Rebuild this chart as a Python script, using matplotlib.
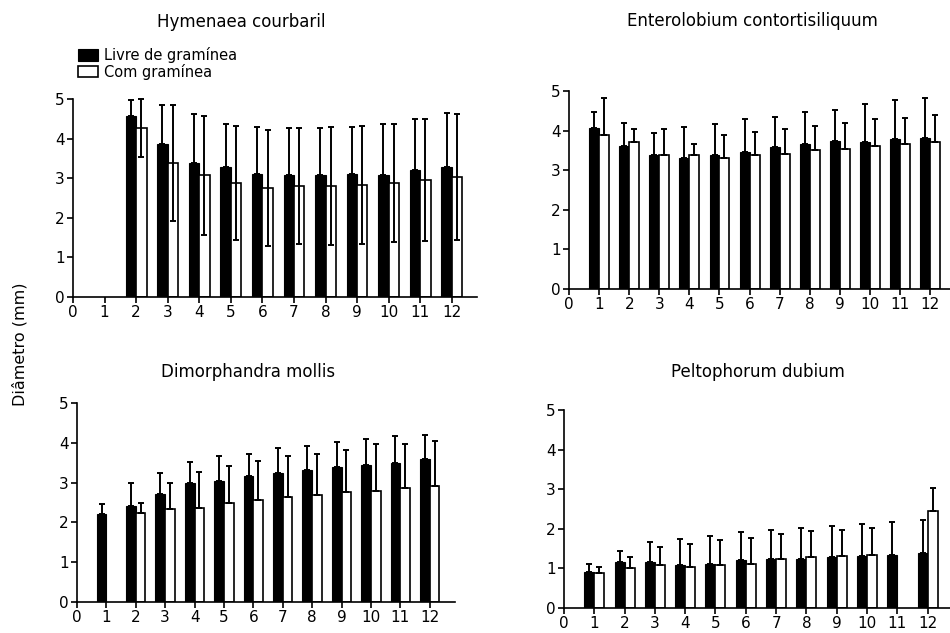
import numpy as np
import matplotlib.pyplot as plt

nan = np.nan
meses = np.arange(1, 13)
ticks_x = np.arange(0, 13)
ticks_y = np.arange(0, 6)

series_labels = ['Livre de gramínea', 'Com gramínea']

# Hymenaea courbaril
hym_livre = [nan, 4.58, 3.86, 3.39, 3.28, 3.11, 3.08, 3.08, 3.11, 3.08, 3.20, 3.28]
hym_livre_err = [nan, 0.39, 0.99, 1.22, 1.09, 1.18, 1.18, 1.18, 1.18, 1.29, 1.29, 1.37]
hym_com = [nan, 4.27, 3.38, 3.07, 2.88, 2.75, 2.80, 2.80, 2.84, 2.88, 2.95, 3.03]
hym_com_err = [nan, 0.73, 1.47, 1.50, 1.45, 1.47, 1.46, 1.49, 1.49, 1.49, 1.54, 1.58]

# Enterolobium contortisiliquum
ent_livre = [4.06, 3.62, 3.38, 3.31, 3.38, 3.46, 3.59, 3.67, 3.74, 3.70, 3.78, 3.82]
ent_livre_err = [0.41, 0.57, 0.55, 0.77, 0.78, 0.83, 0.76, 0.80, 0.77, 0.96, 0.99, 1.01]
ent_com = [3.89, 3.72, 3.38, 3.38, 3.31, 3.38, 3.42, 3.50, 3.54, 3.62, 3.66, 3.70]
ent_com_err = [0.94, 0.33, 0.67, 0.28, 0.58, 0.59, 0.63, 0.62, 0.65, 0.67, 0.67, 0.70]

# Dimorphandra mollis
dim_livre = [2.21, 2.41, 2.72, 3.00, 3.03, 3.16, 3.24, 3.31, 3.39, 3.44, 3.50, 3.59]
dim_livre_err = [0.24, 0.58, 0.51, 0.53, 0.63, 0.57, 0.63, 0.61, 0.62, 0.66, 0.67, 0.61]
dim_com = [nan, 2.24, 2.33, 2.36, 2.49, 2.56, 2.64, 2.68, 2.76, 2.80, 2.87, 2.92]
dim_com_err = [nan, 0.25, 0.66, 0.90, 0.93, 0.98, 1.02, 1.05, 1.06, 1.17, 1.10, 1.13]

# Peltophorum dubium
pel_livre = [0.92, 1.16, 1.16, 1.08, 1.12, 1.20, 1.24, 1.24, 1.29, 1.32, 1.35, 1.39]
pel_livre_err = [0.19, 0.27, 0.50, 0.66, 0.70, 0.71, 0.73, 0.78, 0.77, 0.81, 0.83, 0.83]
pel_com = [0.88, 1.00, 1.08, 1.04, 1.08, 1.12, 1.24, 1.28, 1.32, 1.35, nan, 2.45]
pel_com_err = [0.15, 0.30, 0.46, 0.58, 0.63, 0.66, 0.62, 0.66, 0.66, 0.67, nan, 0.59]

paineis = [
    ('Hymenaea courbaril', hym_livre, hym_livre_err, hym_com, hym_com_err, True,
     [73/950, 1-297/633, 404/950, 198/633], 12.8, (241, 22)),
    ('Enterolobium contortisiliquum', ent_livre, ent_livre_err, ent_com, ent_com_err, False,
     [569/950, 1-289/633, 381/950, 198/633], 12.66, (752, 21)),
    ('Dimorphandra mollis', dim_livre, dim_livre_err, dim_com, dim_com_err, False,
     [77/950, 1-602/633, 378/950, 199/633], 12.86, (248, 372)),
    ('Peltophorum dubium', pel_livre, pel_livre_err, pel_com, pel_com_err, False,
     [564/950, 1-608/633, 386/950, 198/633], 12.74, (758, 372)),
]

largura = 0.33

fig = plt.figure(figsize=(9.5, 6.33), dpi=100)

for titulo, livre, livre_err, com, com_err, baixo, pos, xmax, tpos in paineis:
    ax = fig.add_axes(pos)
    b1 = ax.bar(meses, livre, width=-largura, align='edge', color='black',
                edgecolor='black', linewidth=0.8, zorder=2)
    b2 = ax.bar(meses, com, width=largura, align='edge', color='white',
                edgecolor='black', linewidth=1.2, zorder=2)
    livre_err = np.array(livre_err)
    com_err = np.array(com_err)
    ax.errorbar(meses - largura/2, livre, yerr=[np.zeros(12), livre_err], fmt='none',
                ecolor='black', elinewidth=1.4, capsize=2.5, capthick=1.4,
                zorder=3, clip_on=False)
    # so a Hymenaea mostra o erro para baixo nas barras brancas
    if baixo:
        yerr_com = [com_err, com_err]
    else:
        yerr_com = [np.zeros(12), com_err]
    ax.errorbar(meses + largura/2, com, yerr=yerr_com, fmt='none',
                ecolor='black', elinewidth=1.4, capsize=2.5, capthick=1.4,
                zorder=3, clip_on=False)

    ax.set_xlim(0, xmax)
    ax.set_ylim(0, 5)
    ax.set_xticks(ticks_x)
    ax.set_yticks(ticks_y)
    ax.tick_params(direction='out', length=4, width=1.2, labelsize=11, pad=2)
    for lado in ['top', 'right']:
        ax.spines[lado].set_visible(False)
    for lado in ['left', 'bottom']:
        ax.spines[lado].set_linewidth(1.2)
    fig.text(tpos[0]/950, 1-tpos[1]/633, titulo, ha='center', va='center', fontsize=12)

    if titulo == 'Hymenaea courbaril':
        fig.legend([b1, b2], series_labels, loc='upper left',
                   bbox_to_anchor=(78/950, 1-47/633), frameon=False, fontsize=10.5,
                   handlelength=1.4, handleheight=0.8, handletextpad=0.35,
                   labelspacing=0.05, borderpad=0, borderaxespad=0)

fig.text(20/950, 1-344/633, 'Diâmetro (mm)', rotation=90, ha='center', va='center', fontsize=11.5)

plt.savefig('out.png', dpi=100)
